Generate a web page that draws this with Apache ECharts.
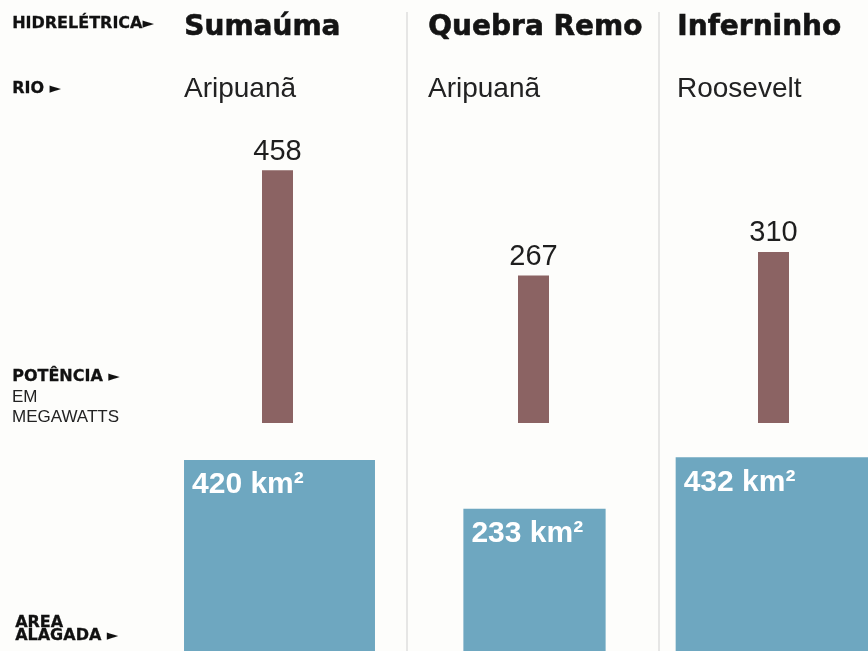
<!DOCTYPE html>
<html>
<head>
<meta charset="utf-8">
<title>Hidrelétricas</title>
<script src="https://cdn.jsdelivr.net/npm/echarts@6/dist/echarts.min.js"></script>
<style>
  html, body { margin: 0; padding: 0; background: #fdfdfb; }
  #chart { width: 868px; height: 651px; }
</style>
</head>
<body>
<div id="chart"></div>
<script>
// dados
var stations = ['Sumaúma', 'Quebra Remo', 'Inferninho'];
var rivers = ['Aripuanã', 'Aripuanã', 'Roosevelt'];
var power = [458, 267, 310];
var area = [420, 233, 432];

// layout
var barCenter = [277.5, 533.5, 773.5];
var squareCenter = [279.5, 534.5, 772.5];
var textLeft = [184, 428, 677];
var dividers = [407, 659];
var FONT = 'Liberation Sans';
var HEAVY = 'DejaVu Sans';
var BAR_COLOR = '#8b6363';
var AREA_COLOR = '#6ea7c0';

var HomeChart = function () {

    function sideLabels() {
        var items = [];
        var rich = {
            b: { fontFamily: HEAVY, fontWeight: 'bold', fontSize: 16, fill: '#111', stroke: '#111', lineWidth: 0.3 },
            r: { fontFamily: FONT, fontSize: 17, fill: '#222' },
            t: { fontFamily: HEAVY, fontSize: 15, fill: '#111' }
        };
        var rows = [
            { x: 12, y: 24, text: '{b|HIDRELÉTRICA}{t|►}' },
            { x: 12, y: 89, text: '{b|RIO }{t|►}' },
            { x: 12, y: 377, text: '{b|POTÊNCIA }{t|►}' },
            { x: 12, y: 397, text: '{r|EM}' },
            { x: 12, y: 417, text: '{r|MEGAWATTS}' },
            { x: 15, y: 623, text: '{b|AREA}' },
            { x: 15, y: 636, text: '{b|ALAGADA }{t|►}' }
        ];
        rows.forEach(function (row) {
            items.push({
                type: 'text',
                left: row.x,
                top: row.y - 8,
                style: { text: row.text, rich: rich, lineHeight: 16 }
            });
        });
        return items;
    }

    function columnTexts() {
        var items = [];
        stations.forEach(function (name, i) {
            items.push({
                type: 'text', left: textLeft[i], top: 13,
                style: {
                    text: name, fontFamily: HEAVY, fontWeight: 'bold', fontSize: 28,
                    fill: '#141414', stroke: '#141414', lineWidth: 0.6
                }
            });
            items.push({
                type: 'text', left: textLeft[i], top: 75,
                style: { text: rivers[i], fontFamily: FONT, fontSize: 28, fill: '#222' }
            });
        });
        dividers.forEach(function (x) {
            items.push({
                type: 'line',
                shape: { x1: x, y1: 12, x2: x, y2: 651 },
                style: { stroke: '#cfcfcf', lineWidth: 1 }
            });
        });
        return items;
    }

    function renderSquare(params, api) {
        var base = api.coord([api.value(0), 0]);
        var side = api.size([0, Math.sqrt(api.value(1))])[1];
        var x = base[0] - side / 2;
        var y = base[1] - side;
        return {
            type: 'group',
            children: [{
                type: 'rect',
                shape: { x: x, y: y, width: side, height: side },
                style: { fill: AREA_COLOR }
            }, {
                type: 'text',
                x: x + 8,
                y: y + 10,
                style: {
                    text: api.value(1) + ' km²',
                    fontFamily: FONT, fontWeight: 'bold', fontSize: 30,
                    fill: '#fff'
                }
            }]
        };
    }

    return {
        init: function () {
            var grid = [], xAxis = [], yAxis = [], series = [];
            stations.forEach(function (name, i) {
                // potência
                grid.push({ left: barCenter[i] - 40, width: 80, top: 147, bottom: 228 });
                xAxis.push({ type: 'category', gridIndex: grid.length - 1, data: [name], show: false });
                yAxis.push({ type: 'value', gridIndex: grid.length - 1, min: 0, max: 500, show: false });
                series.push({
                    type: 'bar',
                    xAxisIndex: grid.length - 1,
                    yAxisIndex: grid.length - 1,
                    barWidth: 31,
                    itemStyle: { color: BAR_COLOR },
                    label: {
                        show: true, position: 'top', distance: 4,
                        fontFamily: FONT, fontSize: 29, color: '#1e1e1e'
                    },
                    data: [power[i]]
                });
                // área alagada
                grid.push({ left: squareCenter[i] - 40, width: 80, top: 446, bottom: 0 });
                xAxis.push({ type: 'category', gridIndex: grid.length - 1, data: [name], show: false });
                yAxis.push({ type: 'value', gridIndex: grid.length - 1, min: 0, max: 22, show: false });
                series.push({
                    type: 'custom',
                    xAxisIndex: grid.length - 1,
                    yAxisIndex: grid.length - 1,
                    clip: false,
                    renderItem: renderSquare,
                    data: [[0, area[i]]]
                });
            });

            var chart = echarts.init(document.getElementById('chart'));
            chart.setOption({
                backgroundColor: '#fdfdfb',
                animation: false,
                grid: grid,
                xAxis: xAxis,
                yAxis: yAxis,
                series: series,
                graphic: sideLabels().concat(columnTexts())
            });
        }
    };
}();

HomeChart.init();
</script>
</body>
</html>
